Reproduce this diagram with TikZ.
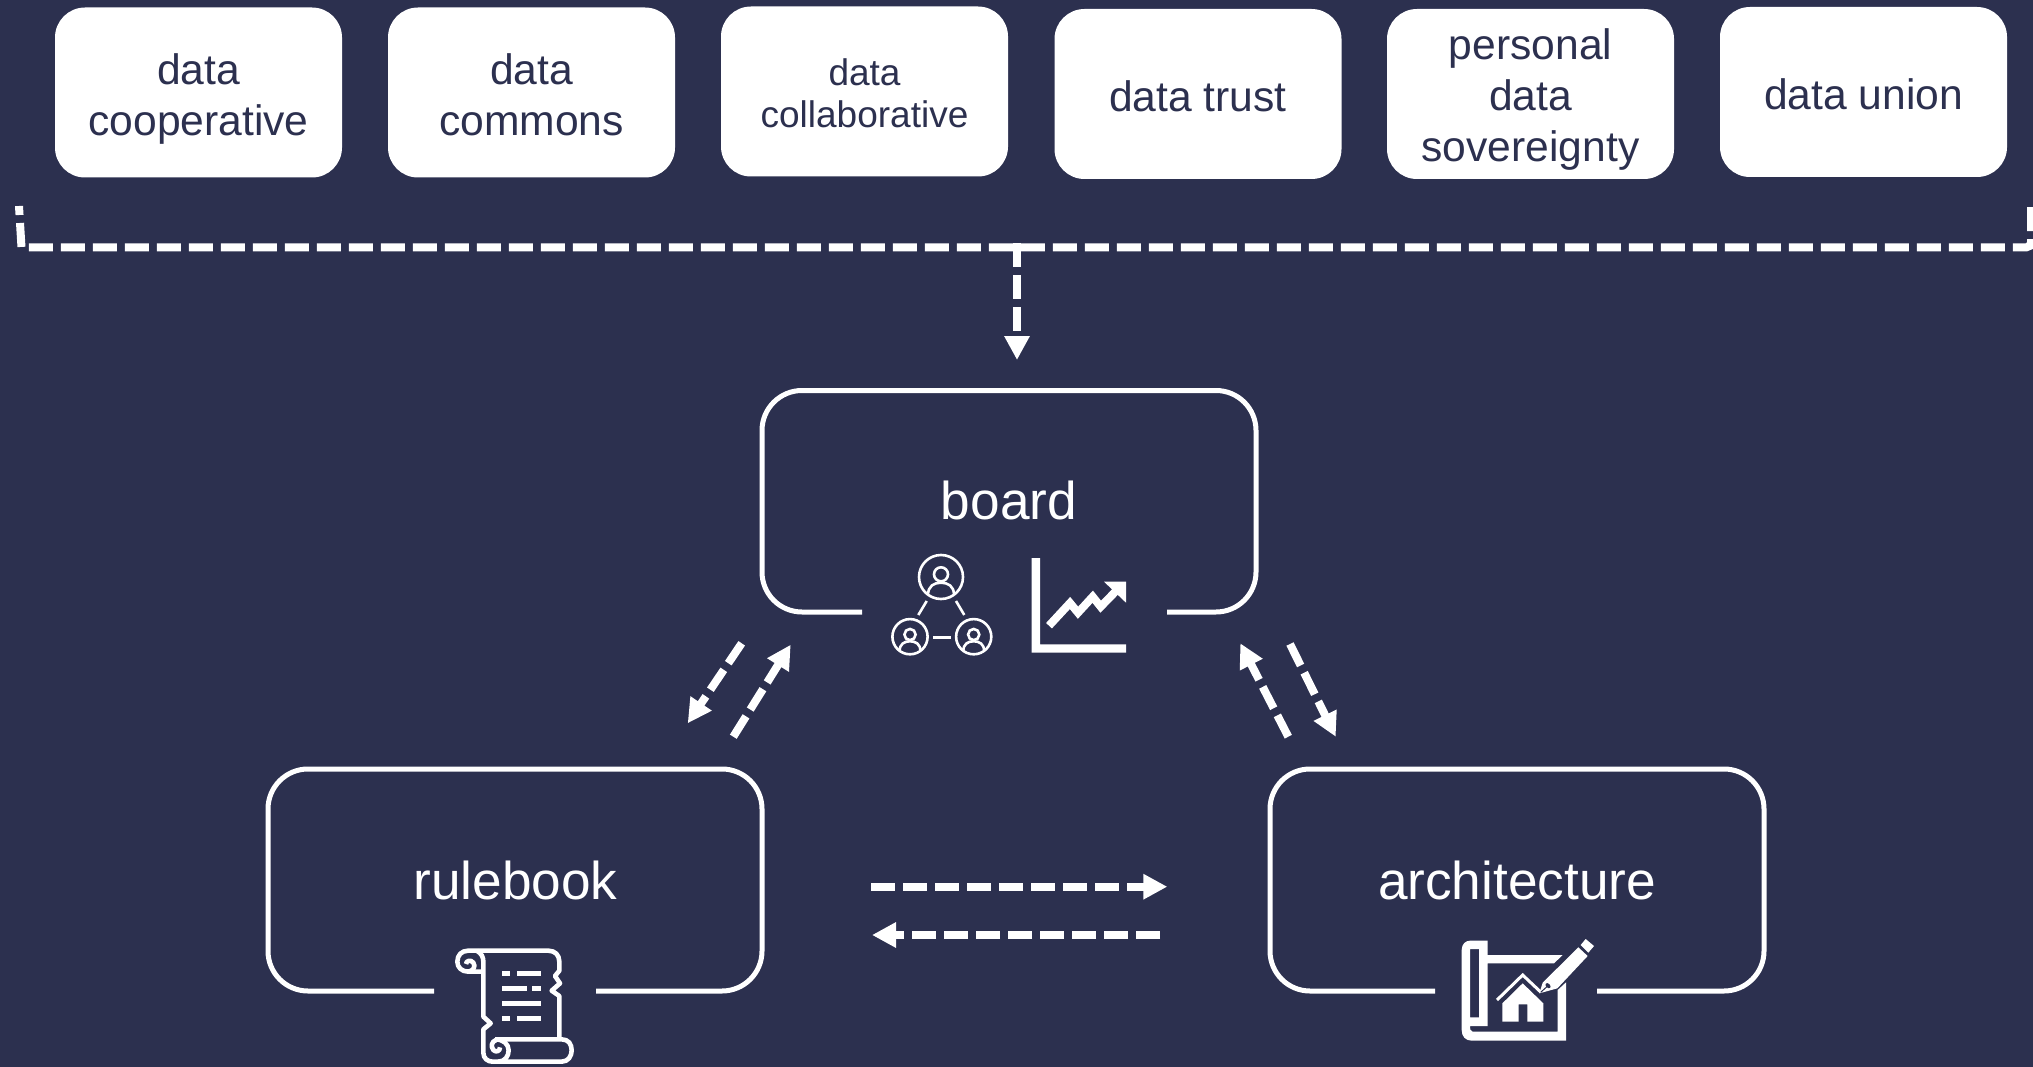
\documentclass[tikz,border=0pt]{standalone}
\usepackage{fontspec}
\setmainfont{Liberation Sans}
\usetikzlibrary{arrows.meta}
\definecolor{navy}{HTML}{2C304F}
\newcommand{\lift}[1]{\rule{0pt}{#1pt}}
\tikzset{
  x=1pt,y=-1pt,
  topbox/.style={fill=white,rounded corners=30pt,minimum width=287pt,minimum height=170pt,inner sep=0pt,align=center,text=navy,font=\fontsize{42.6}{51}\selectfont},
  smalltop/.style={font=\fontsize{37}{42}\selectfont},
  biglabel/.style={text=white,anchor=base,inner sep=0pt,font=\fontsize{53.2}{60}\selectfont},
  frame/.style={draw=white,line width=5pt,rounded corners=40pt},
  dashline/.style={draw=white,line width=8pt,dash pattern=on 24pt off 8pt},
  flow/.style={dashline,-{Triangle[length=24pt,width=24pt]}},
  iconline/.style={draw=white,line width=2.6pt},
  scrollline/.style={draw=white,line width=4.6pt,line join=round},
}
\newcommand{\personicon}[3]{%
  \begin{scope}[shift={(#1,#2)},scale=#3]
    \draw[iconline] (0,0) circle (22);
    \draw[iconline] (0,-2.7) circle (7);
    \draw[iconline] (-13,18) .. controls (-13,9) and (-7,5.7) .. (0,5.7) .. controls (7,5.7) and (13,9) .. (13,18);
  \end{scope}}
\begin{document}
\begin{tikzpicture}
\path[use as bounding box,fill=navy] (0,0) rectangle (2033,1067);

% top boxes
\node[topbox] (cooperative) at (198.5,92.5) {\lift{44}data\\cooperative};
\node[topbox] (commons) at (531.5,92.5) {\lift{36}data\\commons};
\node[topbox,smalltop] (collaborative) at (864.5,91.5) {\lift{31}data\\collaborative};
\node[topbox] (trust) at (1198,94) {\lift{36}data trust};
\node[topbox] (sovereignty) at (1530.5,94) {\lift{42}personal\\data\\sovereignty};
\node[topbox] (union) at (1863.5,92) {\lift{36}data union};

% dashed bracket
\coordinate (brL) at (19,206);
\coordinate (brLc) at (21.5,247.5);
\coordinate (brRc) at (2031,247.5);
\coordinate (brR) at (2031,206);
\draw[dashline,dash phase=15pt] (brL) -- (brLc) [rounded corners=5pt] -- (brRc) -- (brR);

% frames and labels
\node[biglabel] (board) at (1009,519.5) {board};
\node[biglabel] (rulebook) at (515.5,899) {rulebook};
\node[biglabel] (architecture) at (1517,899) {architecture};
\draw[frame] (862,612) -| (762,390.5) -| (1256,612) -- (1167,612);
\draw[frame] (434,991) -| (268,769) -| (762,991) -- (596,991);
\draw[frame] (1435,991) -| (1270,769) -| (1764,991) -- (1597,991);

% flow arrows
\coordinate (feedS) at (1017,243);
\coordinate (feedT) at (1017,360);
\coordinate (a1) at (741.7,643.3); \coordinate (a2) at (687.7,723.3);
\coordinate (b1) at (733.3,736.7); \coordinate (b2) at (790.7,644.7);
\coordinate (c1) at (1288.3,736.7); \coordinate (c2) at (1240.3,643.3);
\coordinate (d1) at (1290,644); \coordinate (d2) at (1335.7,736.7);
\coordinate (e1) at (871.3,886.7); \coordinate (e2) at (1167.3,886.7);
\coordinate (f1) at (1160,935); \coordinate (f2) at (872,935);
\draw[flow] (feedS) -- (feedT);
\draw[flow] (a1) -- (a2);
\draw[flow] (b1) -- (b2);
\draw[flow] (c1) -- (c2);
\draw[flow] (d1) -- (d2);
\draw[flow] (e1) -- (e2);
\draw[flow] (f1) -- (f2);

% people icon
\personicon{941}{577}{1}
\personicon{910}{636.7}{0.8}
\personicon{973.7}{636.7}{0.8}
\draw[iconline] (926.7,601) -- (918.3,615);
\draw[iconline] (956,601) -- (964.3,615);
\draw[iconline] (933.3,637.3) -- (950.7,637.3);

% chart icon
\fill[white] (1031.7,558) -- (1040,558) -- (1040,644.3) -- (1126,644.3) -- (1126,652.7) -- (1031.7,652.7) -- cycle;
\draw[white,line width=8pt] (1049,625.7) -- (1070,603) -- (1078,612.7) -- (1092.7,596.7) -- (1100.7,606.7) -- (1116,591);
\fill[white] (1104,581.7) -- (1126,581.7) -- (1126,602.7) -- cycle;

% scroll icon
\begin{scope}[shift={(420,920)},scale=1/3]
  \draw[scrollline] (190,155) -- (145,155) .. controls (125,155) and (112,142) .. (112,125) .. controls (112,105) and (125,92) .. (145,92) -- (385,92) .. controls (405,92) and (418,105) .. (418,125) -- (418,152) -- (405,168) -- (420,190) -- (395,212) -- (418,228) -- (418,352);
  \draw[scrollline] (145,155) .. controls (160,152) and (168,140) .. (160,128) .. controls (152,118) and (138,122) .. (138,132);
  \draw[scrollline] (170,92) .. controls (185,100) and (190,112) .. (190,125) -- (190,290) -- (212,310) -- (190,328) -- (190,398) .. controls (190,415) and (203,425) .. (218,425) -- (425,425) .. controls (445,425) and (455,408) .. (455,391) .. controls (455,372) and (445,358) .. (425,358) -- (225,358);
  \draw[scrollline] (225,358) .. controls (250,358) and (266,372) .. (266,391) .. controls (266,408) and (255,425) .. (235,425);
  \draw[scrollline] (228,360) .. controls (214,365) and (212,380) .. (220,390) .. controls (228,398) and (240,394) .. (240,382);
  \foreach \ya/\xa/\xb in {161/245/270,161/290/363,206/245/320,206/337/363,251/245/363,296/245/270,296/290/363}
    \fill[white] (\xa,\ya-8) rectangle (\xb,\ya+8);
\end{scope}

% blueprint icon
\begin{scope}[shift={(1420,920)},scale=1/3]
  \fill[white,even odd rule] (150,62) -- (203,62) -- (203,105) -- (428,105) -- (402,130) -- (203,130) -- (203,318) -- (150,318) .. controls (150,325) and (150,335) .. (158,335) -- (413,335) -- (413,210) -- (438,187) -- (438,362) -- (155,362) .. controls (137,362) and (125,350) .. (125,330) -- (125,90) .. controls (125,72) and (137,62) .. (150,62) -- cycle
    (150,87) rectangle (177,292);
  \draw[white,line width=3pt] (231,240) -- (308,165) -- (362,216);
  \fill[white] (247,250) -- (308,190) -- (370,250) -- (370,305) -- (322,305) -- (322,253) -- (296,253) -- (296,305) -- (247,305) -- cycle;
  \fill[white] (368,188) -- (475,82) -- (503,108) -- (412,205) -- (358,220) -- cycle;
  \fill[white] (482,75) -- (497,57) -- (522,78) -- (505,98) -- cycle;
  \fill[navy,rotate around={-45:(384,197)}] (384,197) ellipse (9 and 6);
  \draw[navy,line width=1pt] (384,197) -- (362,217);
\end{scope}
\end{tikzpicture}
\end{document}
